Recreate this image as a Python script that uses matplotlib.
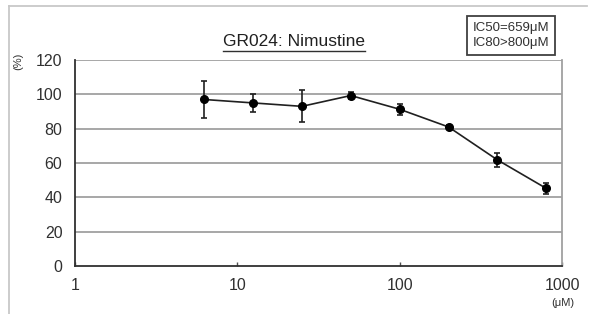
import matplotlib
matplotlib.use('Agg')
import matplotlib.pyplot as plt
from matplotlib.lines import Line2D
import numpy as np

# data
conc = [6.25, 12.5, 25, 50, 100, 200, 400, 800]
viability = [97, 95, 93, 99.3, 91.3, 81, 61.8, 45.2]
err = [10.5, 5.4, 9.3, 1.8, 3.3, 1.3, 4.0, 3.2]

x_ticks = [1, 10, 100, 1000]
x_ticklabels = ["1", "10", "100", "1000"]
y_ticks = [0, 20, 40, 60, 80, 100, 120]

title = "GR024: Nimustine"
ic_text = "IC50=659\u03bcM\nIC80>800\u03bcM"

plt.rcParams['font.family'] = ['Liberation Sans', 'DejaVu Sans']

fig = plt.figure(figsize=(5.97, 3.14), dpi=100)
ax = fig.add_axes([0.1256, 0.1529, 0.8158, 0.656])

# horizontal grid
for yv in y_ticks[1:]:
    ax.axhline(yv, color="#a0a0a0", linewidth=1.3, zorder=1)

ax.errorbar(conc, viability, yerr=err, color="#202020", linewidth=1.2,
            marker='o', markersize=5.5, markerfacecolor="black",
            markeredgecolor="black", ecolor="#202020", elinewidth=1.2,
            capsize=2.5, capthick=1.2, zorder=3)

ax.set_xscale('log')
ax.set_xlim(1, 1000)
ax.set_ylim(0, 120)
ax.set_xticks(x_ticks)
ax.set_xticklabels(x_ticklabels)
ax.xaxis.set_minor_locator(matplotlib.ticker.NullLocator())
ax.set_yticks(y_ticks)

ax.tick_params(axis='x', direction='in', length=3, width=1, color="#505050",
               labelsize=11.5, pad=9, labelcolor="#303030")
ax.tick_params(axis='y', length=0, labelsize=11.5, pad=9, labelcolor="#303030")

for s in ['left', 'bottom']:
    ax.spines[s].set_color("#303030")
    ax.spines[s].set_linewidth(1.3)
ax.spines['right'].set_color("#a0a0a0")
ax.spines['right'].set_linewidth(1.3)
ax.spines['top'].set_visible(False)

# title with underline
t = fig.text(0.493, 0.852, title, fontsize=12.5, ha='center', va='baseline',
             color="#202020")
fig.canvas.draw()
bb = t.get_window_extent().transformed(fig.transFigure.inverted())
fig.add_artist(Line2D([bb.x0, bb.x1], [0.838, 0.838], color="#303030",
                      linewidth=1.0))

fig.text(0.03, 0.805, "(%)", fontsize=8, rotation=90, ha='center',
         va='center', color="#303030")
fig.text(0.943, 0.035, "(\u03bcM)", fontsize=8, ha='center', va='center',
         color="#303030")

fig.text(0.856, 0.887, ic_text, fontsize=9.5, ha='center', va='center',
         color="#303030", linespacing=1.25,
         bbox=dict(boxstyle='square,pad=0.45', facecolor='white',
                   edgecolor="#404040", linewidth=1.3))

# outer frame lines
fig.add_artist(Line2D([0.015, 0.015], [0.0, 0.981], color="#c8c8c8",
                      linewidth=1.3))
fig.add_artist(Line2D([0.015, 0.984], [0.981, 0.981], color="#c8c8c8",
                      linewidth=1.3))

fig.savefig("out.png", dpi=100)
